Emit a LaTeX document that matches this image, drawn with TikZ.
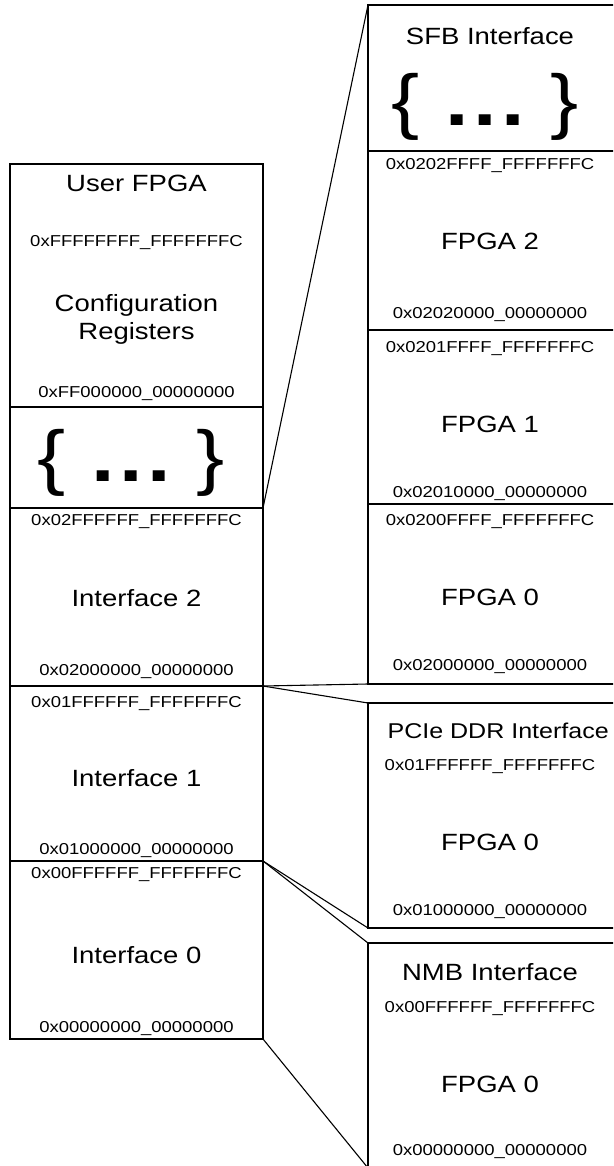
\documentclass[tikz,border=0pt]{standalone}
\usepackage{fontspec}
\setmainfont{Liberation Sans}[FakeStretch=1.17]
\usetikzlibrary{positioning}

\tikzset{
  title/.style={font=\fontsize{23.5}{28}\selectfont, align=center, inner sep=0pt, anchor=base},
  addr/.style={font=\fontsize{15.8}{18}\selectfont, inner sep=0pt, anchor=base},
  gap/.style={font=\fontsize{72}{80}\selectfont, inner sep=0pt, anchor=base},
}
\newcommand{\gapdots}{\{\kern25.7pt\textbf{.\kern4.6pt.\kern4.6pt.}\kern25.7pt\}}

\begin{document}
\begin{tikzpicture}[x=1pt, y=-1pt, line width=1.1pt]
\useasboundingbox (0,0) rectangle (613,1166);
\clip (0,0) rectangle (613,1166);

% corners of the blocks
\coordinate (lgap) at (263,508);
\coordinate (lif2) at (263,686);
\coordinate (lif1) at (263,861);
\coordinate (lif0) at (263,1039);
\coordinate (sfbtop) at (368,5);
\coordinate (sfbbot) at (368,684);
\coordinate (pcietop) at (368,703);
\coordinate (pciebot) at (368,928);
\coordinate (nmbtop) at (368,943);
\coordinate (nmbbot) at (368,1168);

% user fpga map
\draw (10,164) rectangle (lif0);
\draw (10,407) -- (263,407);
\draw (10,508) -- (lgap);
\draw (10,686) -- (lif2);
\draw (10,861) -- (lif1);

\node[title] (user) at (136.5,192) {User FPGA};
\node[addr] (userhi) at (136.5,247) {0xFFFFFFFF\_FFFFFFFC};
\node[title] (cfg) at (136.5,339) {Configuration\\Registers};
\node[addr] (userlo) at (136.5,397) {0xFF000000\_00000000};
\node[gap] (ugap) at (131,481) {\gapdots};

\node[addr] (if2hi) at (136.5,525) {0x02FFFFFF\_FFFFFFFC};
\node[title] (if2) at (136.5,606) {Interface 2};
\node[addr] (if2lo) at (136.5,675) {0x02000000\_00000000};
\node[addr] (if1hi) at (136.5,707) {0x01FFFFFF\_FFFFFFFC};
\node[title] (if1) at (136.5,786) {Interface 1};
\node[addr] (if1lo) at (136.5,854) {0x01000000\_00000000};
\node[addr] (if0hi) at (136.5,878) {0x00FFFFFF\_FFFFFFFC};
\node[title] (if0) at (136.5,963) {Interface 0};
\node[addr] (if0lo) at (136.5,1032) {0x00000000\_00000000};

% sfb interface
\draw (sfbtop) rectangle (615,684);
\draw (368,151) -- (615,151);
\draw (368,330) -- (615,330);
\draw (368,504) -- (615,504);

\node[title] (sfb) at (490,45) {SFB Interface};
\node[gap] (sgap) at (485,126) {\gapdots};
\node[addr] (f2hi) at (490,170) {0x0202FFFF\_FFFFFFFC};
\node[title] (f2) at (490,250) {FPGA 2};
\node[addr] (f2lo) at (490,318) {0x02020000\_00000000};
\node[addr] (f1hi) at (490,352) {0x0201FFFF\_FFFFFFFC};
\node[title] (f1) at (490,432) {FPGA 1};
\node[addr] (f1lo) at (490,497) {0x02010000\_00000000};
\node[addr] (f0hi) at (490,525) {0x0200FFFF\_FFFFFFFC};
\node[title] (f0) at (490,605) {FPGA 0};
\node[addr] (f0lo) at (490,670) {0x02000000\_00000000};

% pcie ddr interface
\draw (pcietop) rectangle (615,928);
\node[title, font=\fontsize{21.4}{26}\selectfont, anchor=base west] (pcie) at (387,738) {PCIe DDR Interface};
\node[addr] (phi) at (490,770) {0x01FFFFFF\_FFFFFFFC};
\node[title] (pf0) at (490,850) {FPGA 0};
\node[addr] (plo) at (490,915) {0x01000000\_00000000};

% nmb interface
\draw (nmbtop) rectangle (615,1168);
\node[title] (nmb) at (490,980) {NMB Interface};
\node[addr] (nhi) at (490,1012) {0x00FFFFFF\_FFFFFFFC};
\node[title] (nf0) at (490,1092) {FPGA 0};
\node[addr] (nlo) at (490,1155) {0x00000000\_00000000};

% expansion lines
\draw (lgap) -- (sfbtop);
\draw (lif2) -- (sfbbot);
\draw (lif2) -- (pcietop);
\draw (lif1) -- (pciebot);
\draw (lif1) -- (nmbtop);
\draw (lif0) -- (nmbbot);

\end{tikzpicture}
\end{document}
